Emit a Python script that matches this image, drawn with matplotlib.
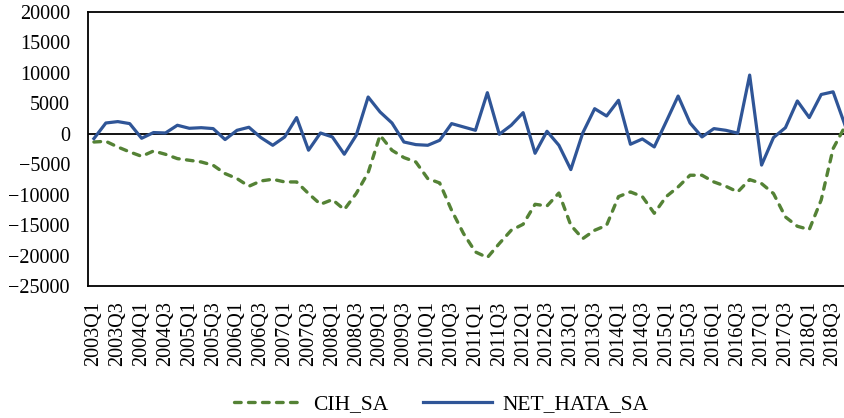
import matplotlib
matplotlib.use("Agg")
import matplotlib.pyplot as plt

plt.rcParams['font.family'] = ['Liberation Serif', 'DejaVu Serif']

# quarterly labels 2003Q1 .. 2018Q4
quarters = [f"{y}Q{q}" for y in range(2003, 2019) for q in range(1, 5)]

cih_sa = [-1350, -1240, -2170, -2980, -3700, -2830, -3370, -4080,
          -4350, -4630, -5170, -6540, -7360, -8620, -7750, -7470,
          -7910, -7910, -9820, -11580, -10810, -12450, -9800, -6380,
          -250, -2710, -3910, -4630, -7360, -8080, -12560, -16390,
          -19410, -20330, -18030, -15850, -14860, -11580, -11860, -9730,
          -15030, -17220, -15850, -15030, -10320, -9550, -10320, -13060,
          -10320, -8730, -6810, -6810, -7910, -8620, -9550, -7520,
          -8180, -9820, -13660, -15190, -15730, -10870, -2430, 1230]

net_hata_sa = [-790, 1770, 2000, 1670, -740, 200, 130, 1400,
               900, 1000, 850, -950, 570, 1070, -620, -1890,
               -520, 2660, -2700, 130, -520, -3360, -250, 6040,
               3580, 1770, -1350, -1780, -1890, -1070, 1670, 1120,
               570, 6750, -80, 1400, 3470, -3200, 410, -1890,
               -5880, 130, 4120, 2920, 5500, -1720, -850, -2160,
               1990, 6200, 1770, -520, 850, 570, 100, 9640,
               -5140, -620, 1000, 5390, 2660, 6450, 6890, 1400]

fig = plt.figure(figsize=(8.45, 4.18), dpi=100)
ax = fig.add_axes([0.1041, 0.3158, 0.903, 0.6555])

x = list(range(len(quarters)))
ax.axhline(0, color='black', lw=1.3, zorder=1)
ax.plot(x, cih_sa, color='#548235', lw=2.4, dashes=(2.0, 2.2),
        dash_capstyle='round', label='CIH_SA', zorder=2)
ax.plot(x, net_hata_sa, color='#2F5597', lw=2.3, label='NET_HATA_SA', zorder=3)

ax.set_xlim(-0.5, len(quarters) - 0.5)
ax.set_ylim(-25000, 20000)
ax.set_yticks(range(-25000, 20001, 5000))
ax.set_xticks(x[::2])
ax.set_xticklabels(quarters[::2], rotation=90)
ax.tick_params(axis='both', length=0, labelsize=14.5)
ax.tick_params(axis='y', pad=13)
ax.tick_params(axis='x', pad=11)
for s in ax.spines.values():
    s.set_linewidth(1.3)
    s.set_color('black')

fig.legend(loc='center', bbox_to_anchor=(0.522, 0.033), ncol=2, frameon=False,
           fontsize=15.5, handlelength=3.2, handletextpad=0.5, columnspacing=1.6)

fig.savefig('out.png', dpi=100)
